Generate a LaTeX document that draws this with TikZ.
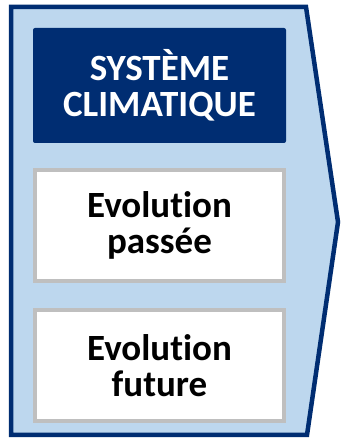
\documentclass[tikz,border=0pt]{standalone}
\usepackage{fontspec}
\setmainfont{Carlito}[Ligatures=NoCommon]
\usepackage{tikz}
\usetikzlibrary{positioning}

\definecolor{navy}{RGB}{0,45,114}
\definecolor{paleblue}{RGB}{189,215,238}
\definecolor{boxgray}{RGB}{191,191,191}

\begin{document}
\begin{tikzpicture}[
    x=1pt, y=1pt,
    node distance=25pt,
    titlebox/.style={fill=navy, text=white, rounded corners=2pt, minimum width=253pt, minimum height=115pt, align=center, font=\fontsize{37}{36}\selectfont\bfseries, inner sep=0pt},
    stagebox/.style={draw=boxgray, line width=4pt, fill=white, minimum width=249pt, minimum height=111pt, align=center, font=\fontsize{37}{36}\selectfont\bfseries, inner sep=0pt}
]
\useasboundingbox (0,0) rectangle (341,441);

% Arrow shape
\draw[navy, line width=4.5pt, fill=paleblue, line join=miter]
    (11,6) -- (307,6) -- (338,219) -- (306,434) -- (11,434) -- cycle;

% Nodes
\node[titlebox] (climat) at (159.5,355.5) {SYSTÈME\\CLIMATIQUE};
\node[stagebox] (passee) [below=of climat] {Evolution\\passée};
\node[stagebox] (future) [below=of passee] {Evolution\\future};

\end{tikzpicture}
\end{document}
